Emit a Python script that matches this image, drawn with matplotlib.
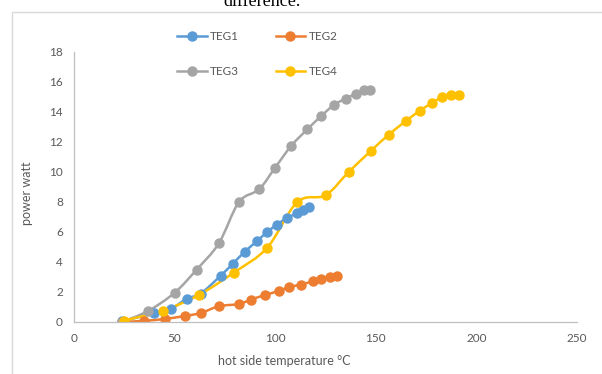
import numpy as np
import matplotlib
matplotlib.use("Agg")
import matplotlib.pyplot as plt
from matplotlib.path import Path
from matplotlib.patches import PathPatch, Rectangle
from matplotlib.lines import Line2D

plt.rcParams['font.family'] = ['Lato', 'DejaVu Sans']

# data
teg1_t = [24, 40, 48, 56, 63, 73, 79, 85, 91, 96, 101, 106, 111, 114, 117]
teg1_p = [0.05, 0.6, 0.85, 1.55, 1.9, 3.1, 3.9, 4.7, 5.4, 6.0, 6.5, 6.95, 7.25, 7.5, 7.7]

teg2_t = [24, 35, 45, 55, 63, 72, 82, 88, 95, 102, 107, 113, 119, 123, 127, 130.5]
teg2_p = [0, 0.08, 0.2, 0.4, 0.6, 1.05, 1.2, 1.5, 1.8, 2.08, 2.33, 2.5, 2.73, 2.9, 3.0, 3.08]

teg3_t = [24, 37, 50, 61, 72, 82, 92, 100, 108, 116, 123, 129, 135, 140, 144, 147]
teg3_p = [0, 0.75, 1.95, 3.5, 5.25, 8.0, 8.85, 10.3, 11.75, 12.85, 13.75, 14.45, 14.9, 15.2, 15.45, 15.5]

teg4_t = [25, 44, 62, 79.5, 96, 111, 125, 136.5, 147.5, 156.5, 165, 172, 178, 183, 187.5, 191.5]
teg4_p = [0.1, 0.75, 1.8, 3.3, 4.95, 8.0, 8.45, 10.0, 11.4, 12.5, 13.4, 14.1, 14.6, 15.0, 15.15, 15.15]

names = ["TEG1", "TEG2", "TEG3", "TEG4"]
colors = ["#5B9BD5", "#ED7D31", "#A5A5A5", "#FFC000"]
x_ticks = [0, 50, 100, 150, 200, 250]
y_ticks = [0, 2, 4, 6, 8, 10, 12, 14, 16, 18]


def smooth_path(x, y):
    # excel-like smoothed line: cubic bezier through each point
    pts = np.column_stack([x, y]).astype(float)
    n = len(pts)
    verts = [pts[0]]
    codes = [Path.MOVETO]
    for i in range(n - 1):
        p0 = pts[max(i - 1, 0)]
        p1 = pts[i]
        p2 = pts[i + 1]
        p3 = pts[min(i + 2, n - 1)]
        verts += [p1 + (p2 - p0) / 6, p2 - (p3 - p1) / 6, p2]
        codes += [Path.CURVE4] * 3
    return Path(verts, codes)


fig = plt.figure(figsize=(6.02, 3.74), dpi=100)
ax = fig.add_axes([74 / 602, 1 - 322 / 374, 503 / 602, 270 / 374])

series = [(teg1_t, teg1_p), (teg2_t, teg2_p), (teg3_t, teg3_p), (teg4_t, teg4_p)]
handles = []
for (t, p), name, c in zip(series, names, colors):
    ax.add_patch(PathPatch(smooth_path(t, p), fill=False, edgecolor=c, lw=1.8,
                           capstyle='round', joinstyle='round'))
    ax.plot(t, p, linestyle='none', marker='o', ms=6.5, color=c)
    handles.append(Line2D([], [], color=c, lw=1.8, marker='o', ms=6.5, label=name))

ax.set_xlim(0, 250)
ax.set_ylim(0, 18)
ax.set_xticks(x_ticks)
ax.set_yticks(y_ticks)
ax.tick_params(length=0, labelsize=8.5, labelcolor='#595959')
ax.tick_params(axis='y', pad=8)
ax.tick_params(axis='x', pad=8)
for s in ['top', 'right']:
    ax.spines[s].set_visible(False)
for s in ['left', 'bottom']:
    ax.spines[s].set_color('#bfbfbf')
    ax.spines[s].set_linewidth(0.9)

ax.set_xlabel("hot side temperature °C", fontsize=9, color='#595959')
ax.set_ylabel("power watt", fontsize=9, color='#595959')
ax.xaxis.set_label_coords(284 / 602, 1 - 355 / 374, transform=fig.transFigure)
ax.yaxis.set_label_coords(33 / 602, 1 - 193 / 374, transform=fig.transFigure)

order = [handles[0], handles[2], handles[1], handles[3]]
fig.legend(handles=order, loc='center left', ncol=2, frameon=False,
           bbox_to_anchor=(177 / 602, 1 - 54 / 374), fontsize=8.5,
           labelcolor='#595959', handlelength=2.5, handletextpad=0.3,
           columnspacing=3.1, labelspacing=2.0, borderpad=0, borderaxespad=0)

# chart frame
fig.patches.append(Rectangle((11.5 / 602, -0.1), 1.2, 1 - 12 / 374 + 0.1,
                             transform=fig.transFigure, fill=False,
                             edgecolor='#d9d9d9', lw=1))

# cut-off caption from the page above
fig.text(262 / 602, 1 - 6 / 374, "difference.", family='Liberation Serif',
         fontsize=13, ha='center', va='baseline', color='black')

fig.savefig("out.png", dpi=100)
